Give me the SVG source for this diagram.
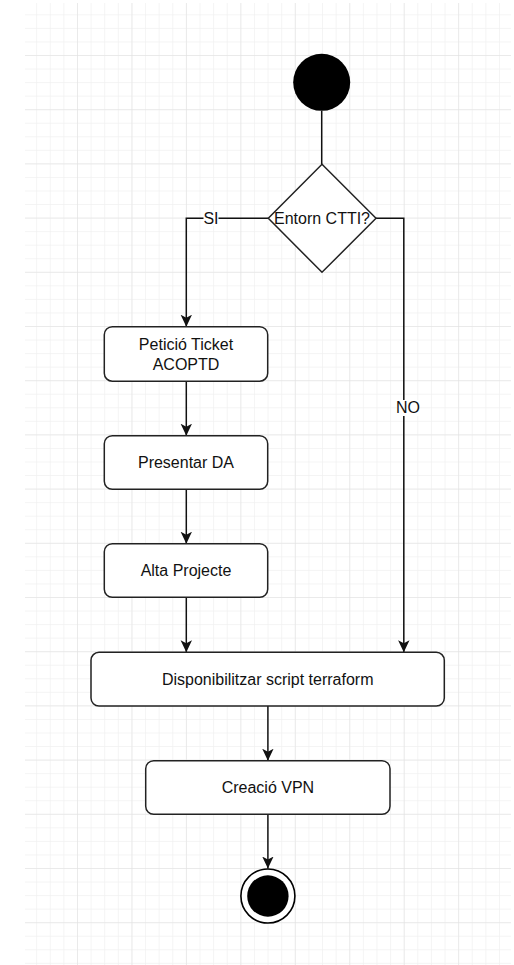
<svg xmlns="http://www.w3.org/2000/svg" width="514" height="965" viewBox="0 0 514 965">
  <style>
    .box { fill: #ffffff; stroke: #222222; stroke-width: 1.5; }
    .conn { fill: none; stroke: #111111; stroke-width: 1.5; }
    .lbl { font-family: "Liberation Sans", Arial, sans-serif; font-size: 16px; fill: #111111; text-anchor: middle; }
  </style>
  <defs>
    <pattern id="minor" patternUnits="userSpaceOnUse" x="22.55" y="0.8" width="13.6125" height="13.55">
      <path d="M 13.6125 0 L 0 0 0 13.55" fill="none" stroke="#f1f1f1" stroke-width="1.5"/>
    </pattern>
    <pattern id="major" patternUnits="userSpaceOnUse" x="22.55" y="0.8" width="54.45" height="54.2">
      <path d="M 54.45 0 L 0 0 0 54.2" fill="none" stroke="#e0e0e0" stroke-width="1"/>
    </pattern>
    <marker id="arrow" markerUnits="userSpaceOnUse" viewBox="0 0 12 12" markerWidth="12" markerHeight="12" refX="12" refY="6" orient="auto">
      <path d="M0,0.3 L12,6 L0,11.7 L3,6 Z" fill="#111111"/>
    </marker>
  </defs>

  <rect x="0" y="0" width="514" height="965" fill="#ffffff"/>
  <rect x="25" y="3" width="486" height="962" fill="url(#minor)"/>
  <rect x="25" y="3" width="486" height="962" fill="url(#major)"/>

  <g id="connectors">
    <path class="conn" d="M321.7,110.8 L321.7,164.3"/>
    <path class="conn" d="M268.3,218.3 L186.3,218.3 L186.3,326.7" marker-end="url(#arrow)"/>
    <path class="conn" d="M376,218.3 L403.8,218.3 L403.8,652.3" marker-end="url(#arrow)"/>
    <path class="conn" d="M186.3,381.2 L186.3,435.7" marker-end="url(#arrow)"/>
    <path class="conn" d="M186.3,489.3 L186.3,543.7" marker-end="url(#arrow)"/>
    <path class="conn" d="M186.3,597.3 L186.3,652.3" marker-end="url(#arrow)"/>
    <path class="conn" d="M267.9,706 L267.9,760.7" marker-end="url(#arrow)"/>
    <path class="conn" d="M267.9,814.3 L267.9,868.5" marker-end="url(#arrow)"/>
    <rect x="203.5" y="210" width="15" height="16" fill="#ffffff"/>
    <text class="lbl" x="211" y="223.8">SI</text>
    <rect x="397" y="400" width="22" height="16" fill="#ffffff"/>
    <text class="lbl" x="408" y="413.3">NO</text>
  </g>

  <g id="start">
    <circle cx="321.7" cy="82.3" r="28.5" fill="#000000"/>
  </g>

  <g id="decision">
    <path class="box" d="M322,164.3 L376,218.3 L322,272.3 L268.3,218.3 Z"/>
    <text class="lbl" x="322" y="223.8">Entorn CTTI?</text>
  </g>

  <g id="peticio">
    <rect class="box" x="104.3" y="326.7" width="163.4" height="54.5" rx="8"/>
    <text class="lbl" x="186" y="349.9">Petició Ticket</text>
    <text class="lbl" x="186" y="369.9">ACOPTD</text>
  </g>

  <g id="presentar">
    <rect class="box" x="104.3" y="435.7" width="163.4" height="53.6" rx="8"/>
    <text class="lbl" x="186" y="468">Presentar DA</text>
  </g>

  <g id="alta">
    <rect class="box" x="104.3" y="543.7" width="163.4" height="53.6" rx="8"/>
    <text class="lbl" x="186" y="576">Alta Projecte</text>
  </g>

  <g id="disponibilitzar">
    <rect class="box" x="91" y="652.3" width="353.3" height="53.7" rx="8"/>
    <text class="lbl" x="267.7" y="684.6">Disponibilitzar script terraform</text>
  </g>

  <g id="vpn">
    <rect class="box" x="145.7" y="760.7" width="244.3" height="53.6" rx="8"/>
    <text class="lbl" x="267.9" y="792.9">Creació VPN</text>
  </g>

  <g id="end">
    <circle cx="267.9" cy="896" r="27" fill="#ffffff" stroke="#000000" stroke-width="1.6"/>
    <circle cx="267.9" cy="896" r="20.7" fill="#000000"/>
  </g>
</svg>
